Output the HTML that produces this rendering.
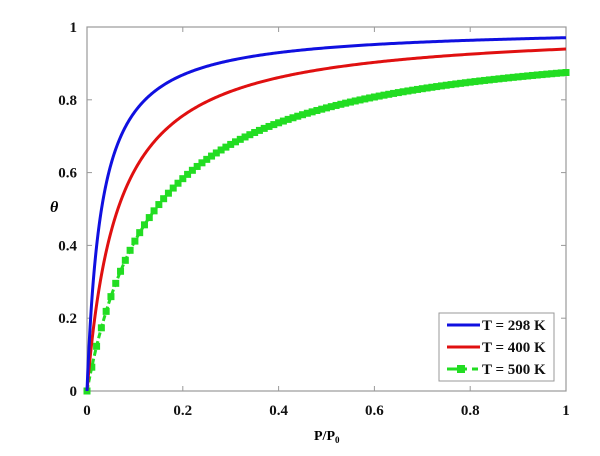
<!DOCTYPE html>
<html><head><meta charset="utf-8"><style>
body{margin:0;background:#fff;}
svg{display:block;font-family:"Liberation Serif",serif;}
</style></head><body>
<svg id="s" width="600" height="456" viewBox="0 0 600 456" xmlns="http://www.w3.org/2000/svg">
<rect x="87" y="27" width="479" height="364" fill="none" stroke="#999" stroke-width="1.2"/>
<g id="ticks" stroke="#999" stroke-width="1"></g>
<g id="labels" font-size="15" fill="#111" font-weight="bold"></g>
<g id="curves"></g>
<text x="50" y="212" font-size="16" font-style="italic" font-weight="bold">θ</text>
<text x="314" y="440" font-size="14" font-weight="bold">P/P<tspan font-size="9" dy="3">0</tspan></text>
<rect x="439" y="313" width="115" height="68" fill="#fff" stroke="#999" stroke-width="1"/>
<line x1="447" y1="325" x2="480" y2="325" stroke="#1010e0" stroke-width="3"/>
<line x1="447" y1="347" x2="480" y2="347" stroke="#e01010" stroke-width="3"/>
<line x1="447" y1="369" x2="480" y2="369" stroke="#22dd22" stroke-width="3" stroke-dasharray="20,5,6,3"/>
<rect x="457" y="365" width="8" height="8" fill="#22dd22"/>
<g font-size="15" font-weight="bold" fill="#111">
<text x="482" y="330">T = 298 K</text>
<text x="482" y="352">T = 400 K</text>
<text x="482" y="374">T = 500 K</text>
</g>
</svg>
<script>
const X=x=>87+479*x, Y=y=>391-364*y;
const ns="http://www.w3.org/2000/svg";
const t=document.getElementById('ticks'),l=document.getElementById('labels'),c=document.getElementById('curves');
function el(p,tag,a,txt){const e=document.createElementNS(ns,tag);for(const k in a)e.setAttribute(k,a[k]);if(txt!==undefined)e.textContent=txt;p.appendChild(e);return e;}
const lab=['0','0.2','0.4','0.6','0.8','1'];
for(let i=0;i<=5;i++){const v=i/5;
 el(t,'line',{x1:X(v),y1:391,x2:X(v),y2:386});el(t,'line',{x1:X(v),y1:27,x2:X(v),y2:32});
 el(t,'line',{x1:87,y1:Y(v),x2:92,y2:Y(v)});el(t,'line',{x1:566,y1:Y(v),x2:561,y2:Y(v)});
 el(l,'text',{x:X(v),y:415,'text-anchor':'middle'},lab[i]);
 el(l,'text',{x:77,y:Y(v)+5,'text-anchor':'end'},lab[i]);}
function path(K){let d='';for(let i=0;i<=400;i++){const x=Math.pow(i/400,2);const y=K*x/(1+K*x);d+=(i?'L':'M')+X(x).toFixed(2)+','+Y(y).toFixed(2);}return d;}
el(c,'path',{d:path(7),fill:'none',stroke:'#22dd22','stroke-width':3,'stroke-dasharray':'6,3'});
for(let i=0;i<=100;i++){const x=i/100,y=7*x/(1+7*x);el(c,'rect',{x:X(x)-3.5,y:Y(y)-3.5,width:7,height:7,fill:'#22dd22'});}
el(c,'path',{d:path(15.5),fill:'none',stroke:'#e01010','stroke-width':3});
el(c,'path',{d:path(33),fill:'none',stroke:'#1010e0','stroke-width':3});
</script>
</body></html>
